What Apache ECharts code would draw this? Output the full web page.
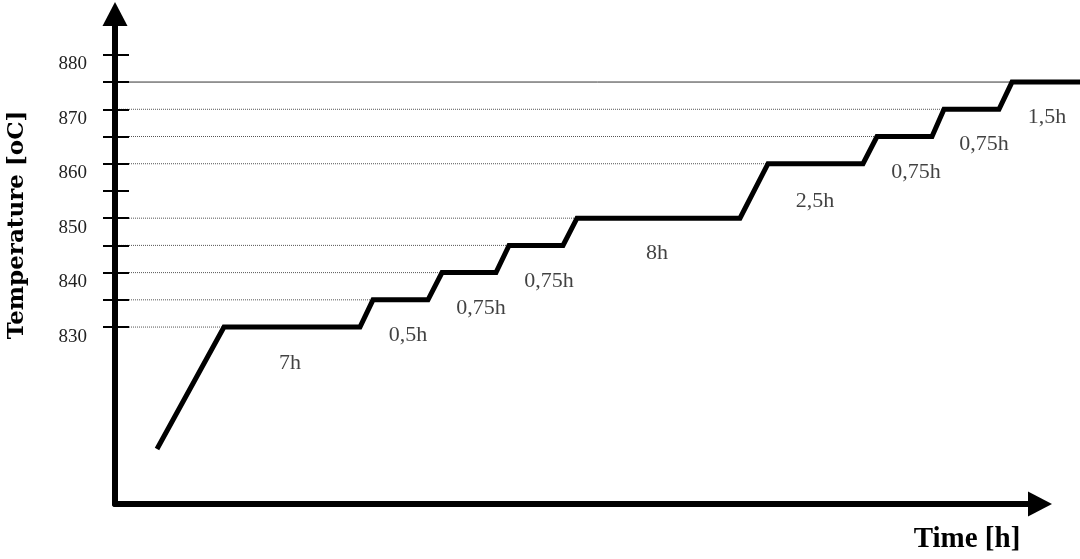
<!DOCTYPE html>
<html><head><meta charset="utf-8">
<script src="https://cdn.jsdelivr.net/npm/echarts@6/dist/echarts.min.js"></script>
<style>html,body{margin:0;padding:0;background:#fff}#c{width:1080px;height:559px}</style>
</head><body><div id="c"></div>
<script>
// Temperature profile: x = schematic time position along the axis, y = temperature in °C
const timePos = [4.2, 10.9, 24.5, 25.8, 31.3, 32.7, 38.1, 39.4, 44.8, 46.2, 62.5, 65.3, 74.8, 76.2, 81.7, 82.9, 88.4, 89.7, 96.5];
const temperature = [807.6, 830, 830, 835, 835, 840, 840, 845, 845, 850, 850, 860, 860, 865, 865, 870, 870, 875, 875];
// Duration labels of each holding step
const stepLabels = ['7h', '0,5h', '0,75h', '0,75h', '8h', '2,5h', '0,75h', '0,75h', '1,5h'];
const stepLabelX = [17.5, 29.3, 36.6, 43.4, 54.2, 70.0, 80.1, 86.9, 93.2];
const stepLabelY = [823.4, 828.5, 833.5, 838.4, 843.6, 853.1, 858.5, 863.6, 868.6];
// Axis ticks and labels
const yTickValues = [830, 835, 840, 845, 850, 855, 860, 865, 870, 875, 880];
const yLabelValues = [830, 840, 850, 860, 870, 880];

const profile = timePos.map((x, i) => [x, temperature[i]]);

// reference lines from the axis to the start of each plateau
const refSeries = [];
const plateauStarts = [];
for (let i = 0; i < temperature.length - 1; i++) {
  if (temperature[i] === temperature[i + 1]) plateauStarts.push(i);
}
plateauStarts.forEach((i, k) => {
  const last = k === plateauStarts.length - 1;
  refSeries.push({
    type: 'line', symbol: 'none', silent: true, z: 1, xAxisIndex: 1, yAxisIndex: 2,
    data: [[0, temperature[i]], [last ? timePos[timePos.length - 1] : timePos[i], temperature[i]]],
    lineStyle: last ? { color: '#333', width: 1, type: 'solid' }
                    : { color: '#555', width: 1, type: [1, 1] }
  });
});

const Y_MIN = 797.5, Y_MAX = 887.5;
const chart = echarts.init(document.getElementById('c'), null, { renderer: 'canvas' });
chart.setOption({
  animation: false,
  backgroundColor: '#fff',
  grid: [
    { left: 115, right: 40, top: 14, bottom: 55, containLabel: false },
    { left: 115, right: 0, top: 14, bottom: 55, containLabel: false }
  ],
  xAxis: [
    {
      type: 'value', gridIndex: 0, min: 0, max: 92.5,
      axisLine: { show: true, symbol: ['none', 'triangle'], symbolSize: [25, 24],
        lineStyle: { color: '#000', width: 6 } },
      axisTick: { show: false }, axisLabel: { show: false }, splitLine: { show: false }
    },
    {
      type: 'value', gridIndex: 1, min: 0, max: 96.5, show: false
    }
  ],
  yAxis: [
    {
      type: 'value', gridIndex: 0, min: Y_MIN, max: Y_MAX, z: 3,
      axisLine: { show: true, symbol: ['none', 'triangle'], symbolSize: [25, 24],
        lineStyle: { color: '#000', width: 6 } },
      axisTick: { show: true, inside: false, length: 12, customValues: yTickValues,
        lineStyle: { color: '#000', width: 2 } },
      axisLabel: { show: true, customValues: yLabelValues, margin: 28,
        fontFamily: 'Liberation Serif', fontSize: 19, color: '#222', verticalAlign: 'top' },
      splitLine: { show: false }
    },
    {
      type: 'value', gridIndex: 0, min: Y_MIN, max: Y_MAX, position: 'left', z: 3,
      axisLine: { show: false },
      axisTick: { show: true, inside: true, length: 14, customValues: yTickValues,
        lineStyle: { color: '#000', width: 2 } },
      axisLabel: { show: false }, splitLine: { show: false }
    },
    {
      type: 'value', gridIndex: 1, min: Y_MIN, max: Y_MAX, show: false
    }
  ],
  graphic: [
    { type: 'text', x: 17, y: 225, rotation: Math.PI / 2, silent: true,
      style: { text: 'Temperature [oC]', fontFamily: 'DejaVu Serif', fontWeight: 'bold',
        fontSize: 23, fill: '#000', align: 'center', verticalAlign: 'middle' } },
    { type: 'text', x: 967, y: 540, silent: true,
      style: { text: 'Time [h]', fontFamily: 'Liberation Serif', fontWeight: 'bold',
        fontSize: 29, fill: '#000', align: 'center', verticalAlign: 'middle' } }
  ],
  series: refSeries.concat([
    {
      type: 'line', xAxisIndex: 1, yAxisIndex: 2, data: profile, symbol: 'none',
      clip: false, z: 5, silent: true,
      lineStyle: { color: '#000', width: 5, join: 'miter', cap: 'butt' }
    },
    {
      type: 'scatter', xAxisIndex: 1, yAxisIndex: 2, symbolSize: 0, clip: false, silent: true, z: 6,
      data: stepLabelX.map((x, i) => ({ value: [x, stepLabelY[i]], name: stepLabels[i] })),
      label: { show: true, position: 'inside', formatter: p => p.name,
        fontFamily: 'Liberation Serif', fontSize: 22, color: '#111',
        align: 'center', verticalAlign: 'middle' }
    }
  ])
});
</script>
</body></html>
